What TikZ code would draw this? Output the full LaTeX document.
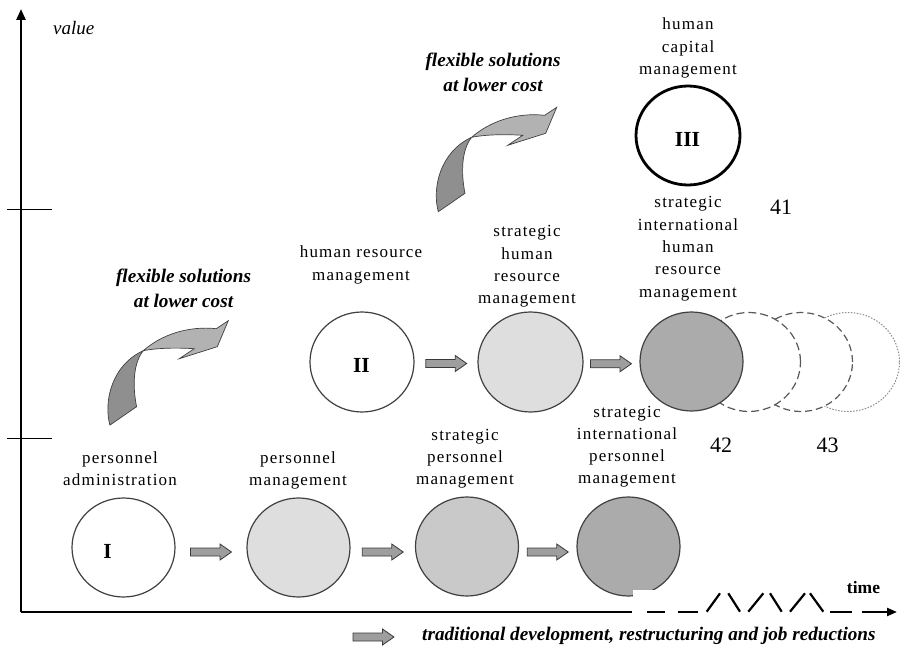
\documentclass[tikz,border=0pt]{standalone}
\usepackage{fontspec}
\setmainfont{Liberation Serif}
\newfontfamily\stagefont[LetterSpace=7]{Liberation Serif}
\usetikzlibrary{shapes.geometric,arrows.meta,calc}

\definecolor{rim}{gray}{0.25}
\definecolor{fillA}{gray}{0.87}
\definecolor{fillB}{gray}{0.79}
\definecolor{fillC}{gray}{0.67}
\definecolor{twistdark}{gray}{0.56}
\definecolor{twistlight}{gray}{0.70}
\definecolor{barrowfill}{gray}{0.62}
\definecolor{ghostline}{gray}{0.35}
\definecolor{dotline}{gray}{0.55}

% multi-line label whose base anchor is the first baseline
\newcommand\stack[1]{\begin{tabular}[t]{@{}c@{}}#1\end{tabular}}

\tikzset{
  stagecirc/.style={ellipse, draw=rim, line width=1.2pt, minimum width=103pt,
    minimum height=99pt, inner sep=0pt},
  stagetext/.style={anchor=base, inner sep=0pt,
    font=\stagefont\fontsize{17}{22.3}\selectfont},
  flextext/.style={anchor=base, inner sep=0pt,
    font=\bfseries\itshape\fontsize{19.2}{25}\selectfont},
  numtext/.style={anchor=base, inner sep=0pt, font=\fontsize{22}{26}\selectfont},
  romantext/.style={anchor=base, inner sep=0pt, font=\bfseries\fontsize{21.5}{26}\selectfont},
  axisline/.style={line width=2.5pt},
  barrow/.pic={
    \filldraw[fill=barrowfill, draw=gray!45!black, line width=0.8pt]
      (-20.5,-4) -- (9,-4) -- (9,-8) -- (20.5,0) -- (9,8) -- (9,4) -- (-20.5,4) -- cycle;
  },
  twist/.pic={
    % lower, turned-over part of the ribbon
    \filldraw[fill=twistdark, draw=rim, line width=0.7pt]
      (-33.4,74.4) .. controls (-40,50) and (-31,14) .. (0,0)
      .. controls (-10,12) and (-11,35) .. (-6.7,56) -- cycle;
    % upper part with the head
    \filldraw[fill=twistlight, draw=rim, line width=0.7pt]
      (0,0) .. controls (18,-16) and (45,-25) .. (73,-22)
      -- (85,-30) -- (74,-4) -- (36,8) -- (51,-2)
      .. controls (35,-3) and (15,-3) .. (0,0) -- cycle;
  }
}

\begin{document}
\begin{tikzpicture}[x=1pt,y=-1pt]
\useasboundingbox (0,0) rectangle (900,647);

% ---- stage III
\node[stagecirc, draw=black, line width=2.8pt, minimum width=104pt] (hcm) at (688,135.5) {};

% ---- stage II row (trailing outlines first, so the later ones cover them)
\node[stagecirc, draw=dotline, line width=1pt, dash pattern=on 1.5pt off 1.5pt, fill=white] (ghost3) at (848,362) {};
\node[stagecirc, draw=ghostline, dash pattern=on 7pt off 4pt, fill=white] (ghost2) at (801,362) {};
\node[stagecirc, draw=ghostline, dash pattern=on 8pt off 4pt, fill=white] (ghost1) at (749,362) {};
\node[stagecirc, fill=fillC] (sihrm) at (691.5,361.5) {};
\node[stagecirc, fill=fillA, minimum width=105pt, minimum height=100pt] (shrm) at (530.5,362) {};
\node[stagecirc, fill=white, minimum width=104pt, minimum height=100pt] (hrm) at (362,362) {};

% ---- stage I row
\node[stagecirc, fill=white] (pa) at (123.5,547.5) {};
\node[stagecirc, fill=fillA] (pm) at (298.5,547.5) {};
\node[stagecirc, fill=fillB] (spm) at (467,546.5) {};
\node[stagecirc, fill=fillC] (sipm) at (628.5,546.5) {};

% stage numerals
\node[romantext] (nI) at (107.5,558) {I};
\node[romantext] (nII) at (361.5,372) {II};
\node[romantext] (nIII) at (687.5,147) {III};

% block arrows between stages
\pic at ($(pa)!0.5!(pm)+(0,4.5)$) {barrow};
\pic at ($(pm)!0.5!(spm)+(0,5)$) {barrow};
\pic at ($(spm)!0.5!(sipm)+(0,5.5)$) {barrow};
\pic at ($(hrm)!0.5!(shrm)+(0,1.5)$) {barrow};
\pic at ($(shrm)!0.5!(sihrm)+(0,2)$) {barrow};

% stage names
\node[stagetext] (l-hcm) at (688,30) {\stack{human\\capital\\management}};
\node[stagetext] (l-sihrm) at (688,208) {\stack{strategic\\international\\human\\resource\\management}};
\node[stagetext] (l-hrm) at (361,258) {\stack{human resource\\management}};
\node[stagetext] (l-shrm) at (527,237) {\stack{strategic\\human\\resource\\management}};
\node[stagetext] (l-pa) at (120,463) {\stack{personnel\\administration}};
\node[stagetext] (l-pm) at (298,463) {\stack{personnel\\management}};
\node[stagetext] (l-spm) at (465,440) {\stack{strategic\\personnel\\management}};
\node[stagetext] (l-sipm) at (627,417) {\stack{strategic\\international\\personnel\\management}};

% reference numbers
\node[numtext] (n41) at (781,215) {41};
\node[numtext] (n42) at (721,452) {42};
\node[numtext] (n43) at (827.5,452) {43};

% twisted arrows with their captions
\pic at (143.3,350.7) {twist};
\pic at (471.7,137.3) {twist};
\node[flextext] (flex1) at (183.5,283) {\stack{flexible solutions\\at lower cost}};
\node[flextext] (flex2) at (493,67) {\stack{flexible solutions\\at lower cost}};

% ---- axes
\fill[white] (633,590) rectangle (690,611);
\coordinate (origin) at (21,612);
\coordinate (vtop) at (21,9);
\coordinate (hsolid) at (632,612);
\draw[axisline, -{Triangle[length=11pt,width=9pt]}] (origin) -- (vtop);
\draw[axisline] (origin) -- (hsolid);
\draw[line width=0.9pt] (7,209) -- (52,209);
\draw[line width=0.9pt] (7,438) -- (52,438);
\begin{scope}[line width=2.2pt]
  \draw (647,612) -- (665,612);
  \draw (678,612) -- (698,612);
  \draw (706.7,611.7) -- (720,593.3);
  \draw (728.3,593.3) -- (740,611.7);
  \draw (748.3,611.7) -- (763.3,593.3);
  \draw (770,593.3) -- (781.7,611.7);
  \draw (790,611.7) -- (805,593.3);
  \draw (810,593.3) -- (823.3,611.7);
  \draw (830,612) -- (852,612);
  \draw[-{Triangle[length=10pt,width=8pt]}] (862,612) -- (897,612);
\end{scope}
\node[anchor=base, inner sep=0pt, font=\bfseries\fontsize{17.5}{20}\selectfont] (timelbl) at (863.5,593) {time};
\node[anchor=base west, inner sep=0pt, font=\itshape\fontsize{19}{22}\selectfont] (valuelbl) at (53,35) {value};

% ---- legend
\pic at (373.5,637) {barrow};
\node[anchor=base west, inner sep=0pt, font=\bfseries\itshape\fontsize{19.2}{22}\selectfont] (legend) at (422,640)
  {traditional development, restructuring and job reductions};
\end{tikzpicture}
\end{document}
